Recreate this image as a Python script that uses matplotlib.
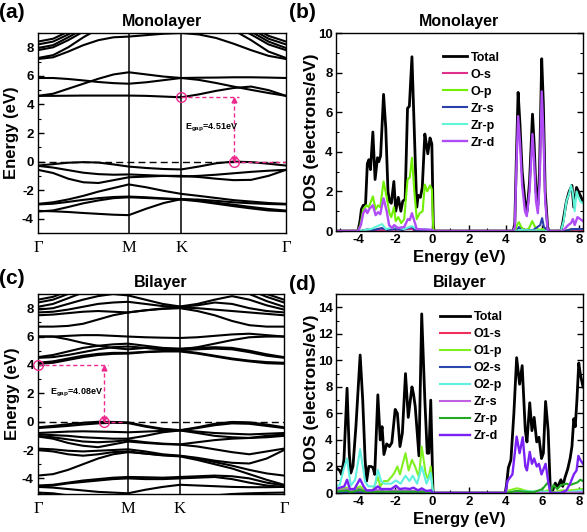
import numpy as np
import matplotlib
matplotlib.use('Agg')
import matplotlib.pyplot as plt
from matplotlib.ticker import MultipleLocator

plt.rcParams['font.family'] = ['Liberation Sans', 'DejaVu Sans']
plt.rcParams['font.weight'] = 'bold'
plt.rcParams['axes.labelweight'] = 'bold'
plt.rcParams['axes.titleweight'] = 'bold'
plt.rcParams['mathtext.fontset'] = 'custom'
plt.rcParams['mathtext.rm'] = 'Liberation Sans:bold'
plt.rcParams['mathtext.default'] = 'rm'
plt.rcParams['axes.linewidth'] = 1.0
plt.rcParams['axes.unicode_minus'] = False

# ---------------- k path ----------------
sym_labels = ['Γ', 'M', 'K', 'Γ']
seg_GM, seg_MK, seg_KG = 1 / np.sqrt(3), 1 / 3, 2 / 3
sym_k = [0, seg_GM, seg_GM + seg_MK, seg_GM + seg_MK + seg_KG]
k_samples = np.concatenate([np.linspace(0, seg_GM, 7),
                            seg_GM + np.linspace(0, seg_MK, 4)[1:],
                            seg_GM + seg_MK + np.linspace(0, seg_KG, 7)[1:]])

# ---------------- monolayer bands (eV at 16 k-samples) ----------------
mono_bands = [
    [-0.28, -0.18, -0.08, -0.04, -0.07, -0.20, -0.35, -0.45, -0.52, -0.55, -0.35, -0.12, 0.00, -0.04, -0.15, -0.28],
    [-0.58, -0.80, -1.20, -1.45, -1.50, -1.30, -1.10, -1.05, -1.00, -1.00, -1.08, -1.20, -1.30, -1.28, -1.00, -0.58],
    [-0.30, -0.42, -0.60, -0.78, -0.88, -0.92, -0.90, -0.95, -1.00, -1.05, -1.00, -0.92, -0.82, -0.72, -0.64, -0.58],
    [-2.96, -2.85, -2.65, -2.40, -2.10, -1.85, -1.60, -1.80, -2.05, -2.26, -2.40, -2.55, -2.70, -2.80, -2.90, -2.96],
    [-3.00, -2.95, -2.82, -2.68, -2.56, -2.48, -2.45, -2.50, -2.58, -2.63, -2.66, -2.75, -2.85, -2.92, -2.97, -3.00],
    [-3.45, -3.48, -3.53, -3.60, -3.66, -3.72, -3.75, -3.30, -2.90, -2.63, -2.72, -2.88, -3.02, -3.18, -3.32, -3.43],
    [-3.50, -3.42, -3.18, -2.92, -2.72, -2.56, -2.50, -2.55, -2.60, -2.66, -2.78, -2.95, -3.12, -3.28, -3.42, -3.48],
    [4.60, 4.60, 4.61, 4.62, 4.62, 4.62, 4.62, 4.60, 4.55, 4.50, 4.70, 4.95, 5.15, 5.25, 5.00, 4.60],
    [4.60, 4.75, 5.10, 5.45, 5.80, 6.10, 6.25, 6.10, 5.95, 5.85, 5.72, 5.50, 5.25, 5.02, 4.80, 4.60],
    [5.85, 5.85, 5.78, 5.68, 5.57, 5.49, 5.45, 5.55, 5.70, 5.85, 5.87, 5.88, 5.90, 5.90, 5.88, 5.85],
    [7.18, 7.30, 7.70, 8.15, 8.50, 8.70, 8.75, 8.85, 8.95, 9.00, 8.90, 8.65, 8.25, 7.80, 7.40, 7.18],
    [7.25, 7.45, 8.00, 8.70, 9.30, 9.80, 10.0, 10.0, 10.0, 10.0, 10.0, 9.80, 9.20, 8.50, 7.70, 7.25],
    [7.80, 8.00, 8.50, 9.10, 9.70, 10.2, 10.5, 10.5, 10.5, 10.5, 10.5, 10.2, 9.50, 8.90, 8.20, 7.80],
    [7.95, 8.15, 8.70, 9.30, 9.90, 10.3, 10.5, 10.5, 10.5, 10.5, 10.5, 10.3, 9.70, 9.10, 8.40, 7.95],
    [8.20, 8.40, 8.90, 9.50, 10.1, 10.5, 10.8, 10.8, 10.8, 10.8, 10.8, 10.5, 9.90, 9.30, 8.60, 8.20],
    [8.40, 8.60, 9.10, 9.70, 10.3, 10.7, 11.0, 11.0, 11.0, 11.0, 11.0, 10.7, 10.1, 9.50, 8.80, 8.40],
]

# ---------------- bilayer bands ----------------
bi_bands = [
    [-0.40, -0.30, -0.18, -0.08, -0.01, -0.02, -0.05, -0.30, -0.50, -0.60, -0.40, -0.15, -0.02, -0.05, -0.20, -0.40],
    [-0.45, -0.38, -0.30, -0.20, -0.12, -0.08, -0.10, -0.35, -0.55, -0.62, -0.45, -0.25, -0.12, -0.15, -0.30, -0.45],
    [-0.80, -0.75, -0.70, -0.68, -0.70, -0.72, -0.75, -0.70, -0.65, -0.60, -0.70, -0.80, -0.85, -0.90, -0.85, -0.80],
    [-0.90, -0.95, -1.00, -1.10, -1.15, -1.20, -1.20, -1.00, -0.75, -0.62, -0.80, -1.00, -1.10, -1.15, -1.00, -0.90],
    [-1.00, -1.10, -1.25, -1.40, -1.45, -1.40, -1.30, -1.45, -1.55, -1.60, -1.45, -1.30, -1.20, -1.15, -1.10, -1.00],
    [-1.05, -1.20, -1.50, -1.70, -1.80, -1.60, -1.40, -1.50, -1.58, -1.62, -1.75, -1.95, -2.15, -2.30, -2.10, -1.90],
    [-1.90, -1.95, -2.05, -2.10, -2.05, -2.00, -1.95, -2.10, -2.30, -2.40, -2.55, -2.75, -2.90, -2.95, -2.60, -2.00],
    [-2.00, -2.10, -2.30, -2.40, -2.30, -2.15, -2.10, -2.25, -2.38, -2.45, -2.70, -3.00, -3.30, -3.70, -4.10, -4.45],
    [-3.80, -3.70, -3.40, -3.00, -2.60, -2.30, -2.15, -2.25, -2.35, -2.42, -2.60, -2.85, -3.10, -3.40, -3.65, -3.80],
    [-4.50, -4.45, -4.30, -4.15, -4.05, -3.95, -3.90, -3.92, -3.95, -3.90, -3.85, -3.80, -3.85, -4.00, -4.30, -4.50],
    [-4.60, -4.50, -4.35, -4.25, -4.15, -4.05, -4.00, -4.05, -4.05, -4.00, -3.95, -3.90, -4.05, -4.30, -4.50, -4.60],
    [-4.60, -4.65, -4.75, -4.85, -4.95, -5.00, -5.05, -4.80, -4.60, -4.45, -4.50, -4.55, -4.60, -4.62, -4.62, -4.60],
    [-5.00, -5.05, -5.20, -5.40, -5.50, -5.40, -5.20, -5.30, -5.40, -5.45, -5.30, -5.20, -5.10, -5.05, -5.02, -5.00],
    [4.08, 4.15, 4.35, 4.55, 4.70, 4.78, 4.80, 4.90, 4.95, 4.95, 4.80, 4.60, 4.40, 4.25, 4.12, 4.08],
    [4.15, 4.25, 4.45, 4.65, 4.78, 4.85, 4.85, 4.92, 4.98, 5.00, 4.85, 4.65, 4.45, 4.30, 4.20, 4.15],
    [4.50, 4.55, 4.70, 4.90, 5.10, 5.25, 5.30, 5.20, 5.10, 5.05, 5.10, 5.15, 5.10, 4.90, 4.65, 4.50],
    [4.55, 4.70, 4.95, 5.20, 5.35, 5.45, 5.50, 5.35, 5.20, 5.15, 5.20, 5.25, 5.20, 5.00, 4.75, 4.55],
    [6.00, 6.00, 5.80, 5.55, 5.35, 5.20, 5.10, 5.20, 5.12, 5.10, 5.25, 5.50, 5.75, 5.95, 6.00, 6.00],
    [6.00, 6.00, 6.05, 6.10, 6.10, 6.05, 6.00, 5.95, 5.92, 5.90, 5.95, 6.05, 6.15, 6.20, 6.10, 6.00],
    [6.70, 6.70, 6.75, 6.90, 7.20, 7.50, 7.70, 7.85, 7.95, 8.00, 7.80, 7.50, 7.10, 6.80, 6.70, 6.70],
    [7.50, 7.55, 7.65, 7.75, 7.80, 7.75, 7.70, 7.85, 7.98, 8.05, 8.00, 7.90, 7.80, 7.70, 7.60, 7.50],
    [7.70, 7.75, 7.90, 8.10, 8.30, 8.40, 8.45, 8.30, 8.15, 8.10, 8.20, 8.40, 8.30, 8.00, 7.80, 7.70],
    [7.90, 8.00, 8.30, 8.60, 8.85, 9.00, 8.90, 8.60, 8.30, 8.12, 8.30, 8.60, 8.85, 8.60, 8.20, 7.90],
    [8.10, 8.30, 8.70, 9.10, 9.40, 9.40, 9.40, 9.30, 9.20, 9.10, 9.20, 9.30, 9.30, 9.00, 8.50, 8.10],
    [8.40, 8.60, 9.00, 9.40, 9.80, 10.0, 10.0, 10.0, 10.0, 10.0, 10.0, 10.0, 9.70, 9.30, 8.80, 8.40],
    [8.60, 8.80, 9.20, 9.60, 10.0, 10.2, 10.2, 10.2, 10.2, 10.2, 10.2, 10.2, 9.90, 9.50, 9.00, 8.60],
]

# ---------------- monolayer DOS (energy eV, states/eV) ----------------
mono_total = [(-5.2, 0), (-4.0, 0), (-3.9, 0.5), (-3.82, 1.1), (-3.72, 1.3), (-3.6, 1.3), (-3.5, 3.4), (-3.42, 3.6),
              (-3.33, 3.1), (-3.2, 5.0), (-3.08, 2.6), (-2.95, 3.7), (-2.88, 3.5), (-2.78, 3.8), (-2.62, 6.9),
              (-2.5, 5.2), (-2.38, 2.0), (-2.3, 1.5), (-2.2, 1.4), (-2.06, 2.5), (-1.96, 1.0), (-1.82, 1.7),
              (-1.68, 1.0), (-1.58, 1.5), (-1.45, 1.6), (-1.32, 6.2), (-1.22, 6.3), (-1.08, 8.8), (-0.95, 5.0),
              (-0.82, 1.2), (-0.74, 1.8), (-0.62, 1.7), (-0.52, 2.2), (-0.38, 4.9), (-0.3, 4.4), (-0.22, 3.9),
              (-0.1, 4.7), (0.0, 4.4), (0.08, 0.3), (0.12, 0), (4.42, 0), (4.5, 0.4), (4.58, 3.5), (4.68, 7.0),
              (4.78, 5.4), (4.9, 3.0), (5.05, 1.5), (5.17, 1.0), (5.3, 2.5), (5.46, 5.9), (5.55, 4.4), (5.65, 2.0),
              (5.75, 1.3), (5.84, 3.0), (5.96, 8.7), (6.05, 6.4), (6.15, 2.0), (6.28, 0.2), (6.35, 0), (7.0, 0),
              (7.1, 0.4), (7.3, 1.5), (7.45, 2.0), (7.6, 2.3), (7.7, 1.2), (7.85, 2.2), (7.95, 2.0), (8.05, 1.8),
              (8.2, 1.5)]
mono_Os = [(-5.2, 0), (-3.9, 0), (-3.4, 0.03), (-2.7, 0.05), (-1.1, 0.1), (-0.8, 0.02), (0.1, 0), (8.2, 0)]
mono_Op = [(-5.2, 0), (-4.0, 0), (-3.88, 0.3), (-3.72, 1.1), (-3.55, 1.3), (-3.42, 1.2), (-3.2, 1.75), (-3.05, 1.1),
           (-2.92, 1.3), (-2.8, 1.2), (-2.62, 2.5), (-2.45, 1.7), (-2.3, 0.9), (-2.2, 0.7), (-2.06, 1.2),
           (-1.96, 0.5), (-1.82, 0.7), (-1.66, 0.4), (-1.5, 0.6), (-1.32, 2.6), (-1.2, 2.7), (-1.08, 3.7),
           (-0.95, 2.0), (-0.82, 0.6), (-0.66, 0.9), (-0.5, 1.0), (-0.38, 2.35), (-0.25, 2.0), (-0.1, 2.3),
           (0.0, 2.1), (0.08, 0.1), (0.12, 0), (4.5, 0), (4.62, 0.3), (4.72, 0.45), (4.85, 0.2), (5.0, 0.05),
           (5.25, 0.1), (5.45, 0.5), (5.6, 0.2), (5.8, 0.05), (6.0, 0.1), (6.3, 0), (7.2, 0), (7.6, 0.1), (8.2, 0.1)]
mono_Zrs = [(-5.2, 0), (-3.9, 0), (-3.5, 0.08), (-3.2, 0.05), (-2.7, 0.15), (-2.4, 0.05), (-2.0, 0.1), (-1.6, 0.05),
            (-1.1, 0.2), (-0.9, 0.05), (0.1, 0), (4.6, 0), (4.72, 0.2), (4.85, 0.05), (5.5, 0.05), (5.88, 0.3),
            (5.98, 0.65), (6.08, 0.2), (6.3, 0), (7.2, 0), (7.6, 0.1), (8.2, 0.1)]
mono_Zrp = [(-5.2, 0), (-3.9, 0), (-3.6, 0.05), (-3.3, 0.1), (-2.7, 0.35), (-2.5, 0.1), (-2.0, 0.2), (-1.5, 0.1),
            (-1.1, 0.25), (-0.8, 0.1), (-0.3, 0.1), (0.1, 0), (4.6, 0), (4.75, 0.05), (6.3, 0), (7.0, 0),
            (7.15, 0.5), (7.3, 1.5), (7.45, 1.9), (7.55, 2.3), (7.65, 1.9), (7.75, 1.0), (7.85, 2.0), (7.95, 1.7),
            (8.05, 1.5), (8.2, 1.4)]
mono_Zrd = [(-5.2, 0), (-4.0, 0), (-3.85, 0.3), (-3.72, 0.9), (-3.6, 1.1), (-3.5, 0.9), (-3.4, 1.1), (-3.2, 1.3),
            (-3.05, 0.8), (-2.92, 0.95), (-2.8, 0.85), (-2.62, 1.65), (-2.45, 1.0), (-2.32, 0.3), (-2.15, 0.15),
            (-2.05, 0.3), (-1.85, 0.15), (-1.5, 0.2), (-1.3, 0.6), (-1.2, 0.55), (-1.08, 0.9), (-0.95, 0.5),
            (-0.82, 0.1), (-0.5, 0.08), (0.0, 0.06), (0.1, 0), (4.42, 0), (4.5, 0.2), (4.58, 3.0), (4.68, 5.8),
            (4.78, 4.5), (4.9, 2.3), (5.05, 1.0), (5.15, 0.75), (5.3, 2.0), (5.46, 4.9), (5.55, 3.5), (5.65, 1.5),
            (5.75, 0.9), (5.85, 2.5), (5.96, 7.05), (6.05, 5.0), (6.15, 1.5), (6.28, 0.1), (6.35, 0), (7.1, 0),
            (7.4, 0.3), (7.55, 0.4), (7.65, 0.6), (7.75, 0.3), (7.9, 0.7), (8.05, 0.6), (8.2, 0.5)]

# ---------------- bilayer DOS ----------------
bi_total = [(-5.2, 1.9), (-5.0, 1.7), (-4.9, 1.4), (-4.77, 2.5), (-4.6, 7.9), (-4.48, 3.0), (-4.4, 1.5), (-4.28, 2.0),
            (-4.12, 5.0), (-3.89, 10.4), (-3.75, 7.0), (-3.62, 2.5), (-3.54, 0.9), (-3.42, 2.0), (-3.3, 2.0),
            (-3.19, 1.9), (-3.1, 1.4), (-2.93, 7.4), (-2.8, 4.0), (-2.7, 5.0), (-2.6, 2.9), (-2.45, 3.7),
            (-2.3, 3.5), (-2.17, 3.8), (-1.99, 6.3), (-1.87, 6.0), (-1.73, 3.5), (-1.6, 4.5), (-1.43, 9.0),
            (-1.28, 5.7), (-1.08, 8.0), (-1.0, 7.5), (-0.9, 6.5), (-0.7, 2.8), (-0.55, 13.5), (-0.38, 7.0),
            (-0.25, 3.0), (-0.16, 3.0), (-0.06, 7.0), (0.06, 0.2), (0.1, 0), (3.98, 0), (4.05, 0.6), (4.15, 1.9),
            (4.29, 2.5), (4.45, 6.0), (4.6, 10.2), (4.76, 8.2), (4.9, 9.6), (5.07, 4.7), (5.16, 3.85), (5.31, 6.8),
            (5.43, 4.7), (5.55, 5.7), (5.69, 3.85), (5.81, 4.2), (5.95, 2.6), (6.05, 3.0), (6.17, 6.9),
            (6.31, 4.7), (6.43, 0.1), (6.53, 0), (6.6, 0.4), (6.7, 0.75), (6.8, 0.4), (6.87, 0.6), (7.0, 1.0),
            (7.1, 0.5), (7.23, 1.2), (7.37, 1.8), (7.5, 2.6), (7.6, 3.5), (7.7, 5.6), (7.78, 5.0), (7.87, 7.0),
            (7.97, 9.8), (8.05, 9.0), (8.2, 8.0)]
bi_O1s = [(-5.2, 0.05), (-4.6, 0.05), (-3.9, 0.05), (0.05, 0), (8.2, 0)]
bi_O1p = [(-5.2, 0.2), (-4.6, 0.4), (-4.4, 0.15), (-3.89, 0.5), (-3.6, 0.15), (-3.2, 0.2), (-2.93, 1.2), (-2.8, 0.5),
          (-2.6, 0.9), (-2.4, 0.9), (-2.2, 1.2), (-2.04, 1.5), (-1.87, 2.0), (-1.73, 1.4), (-1.43, 3.0),
          (-1.26, 1.7), (-1.08, 2.5), (-0.91, 2.0), (-0.7, 1.2), (-0.55, 3.5), (-0.34, 1.5), (-0.2, 1.0),
          (-0.06, 2.0), (0.06, 0), (4.0, 0), (4.2, 0.2), (4.6, 0.35), (4.8, 0.3), (5.0, 0.2), (5.4, 0.1),
          (6.0, 0.1), (6.3, 0.2), (6.45, 0), (7.0, 0.2), (7.5, 0.2), (8.2, 0.3)]
bi_O2s = [(-5.2, 0.05), (-4.6, 0.08), (-3.9, 0.05), (0.05, 0), (8.2, 0)]
bi_O2p = [(-5.2, 0.5), (-5.0, 0.6), (-4.77, 1.85), (-4.6, 2.6), (-4.4, 0.55), (-4.16, 1.0), (-3.89, 3.3), (-3.62, 0.85),
          (-3.45, 0.5), (-3.1, 0.5), (-2.93, 1.75), (-2.75, 0.9), (-2.58, 0.7), (-2.2, 0.7), (-1.95, 0.95),
          (-1.7, 0.7), (-1.43, 1.3), (-1.22, 0.9), (-1.04, 1.3), (-0.8, 0.7), (-0.55, 2.0), (-0.29, 0.7),
          (-0.06, 1.5), (0.06, 0), (4.0, 0), (4.3, 0.05), (4.6, 0.15), (6.2, 0.1), (6.45, 0), (7.2, 0.05),
          (7.6, 0.1), (8.2, 0.2)]
bi_Zrs = [(-5.2, 0.1), (-4.6, 0.3), (-4.4, 0.1), (-3.9, 0.3), (-3.6, 0.1), (-2.9, 0.25), (-2.5, 0.1), (-2.0, 0.2),
          (-1.4, 0.15), (-0.55, 0.15), (0.05, 0), (4.0, 0), (4.6, 0.1), (5.0, 0.05), (6.4, 0), (8.2, 0.05)]
bi_Zrp = [(-5.2, 0.1), (-4.6, 0.2), (-4.4, 0.05), (-3.9, 0.25), (-3.5, 0.05), (-2.9, 0.1), (-1.4, 0.1), (-0.5, 0.1),
          (0.05, 0), (4.0, 0), (4.6, 0.15), (5.5, 0.05), (6.0, 0.3), (6.3, 0.8), (6.45, 0.1), (6.6, 0.6),
          (6.8, 0.3), (7.0, 0.6), (7.3, 0.7), (7.5, 0.6), (7.7, 0.7), (7.9, 0.8), (8.05, 1.0), (8.2, 0.9)]
bi_Zrd = [(-5.2, 0.3), (-4.75, 0.5), (-4.6, 1.0), (-4.45, 0.3), (-4.2, 0.3), (-3.9, 1.05), (-3.7, 0.5), (-3.55, 0.2),
          (-3.2, 0.2), (-2.93, 0.5), (-2.75, 0.3), (-2.5, 0.3), (-2.2, 0.3), (-1.95, 0.55), (-1.75, 0.3),
          (-1.45, 0.35), (-1.2, 0.3), (-1.0, 0.4), (-0.75, 0.2), (-0.55, 0.35), (-0.3, 0.15), (-0.06, 0.2),
          (0.06, 0), (4.0, 0), (4.1, 0.9), (4.37, 1.4), (4.6, 4.25), (4.76, 3.0), (4.93, 4.2), (5.07, 2.0),
          (5.16, 1.7), (5.31, 3.1), (5.43, 2.2), (5.55, 2.6), (5.69, 2.0), (5.81, 2.2), (5.95, 1.4), (6.17, 2.2),
          (6.31, 0.9), (6.43, 0), (7.0, 0), (7.3, 0.2), (7.5, 0.7), (7.7, 1.4), (7.85, 1.7), (7.95, 2.8),
          (8.05, 2.5), (8.2, 2.2)]

mono_gap = dict(k_c=sym_k[2], e_c=4.50, k_v=sym_k[2] + 0.505 * seg_KG, e_v=0.0, label='4.51eV')
bi_gap = dict(k_c=0.0, e_c=4.00, k_v=0.73 * seg_GM, e_v=0.0, label='4.08eV')

PINK = '#EE2A8E'

W, H = 587, 532
fig = plt.figure(figsize=(W / 100, H / 100), dpi=100)


def axpx(l, t, r, b):
    return fig.add_axes([l / W, 1 - b / H, (r - l) / W, (b - t) / H])


ax_a = axpx(38, 33, 286, 233)
ax_b = axpx(336, 33, 583, 231)
ax_c = axpx(38, 294, 284, 494)
ax_d = axpx(336, 294, 583, 493)


def draw_bands(ax, bands, ylim, title):
    for b in bands:
        ax.plot(k_samples, b, color='black', lw=1.5, solid_joinstyle='round')
    for kx in sym_k[1:-1]:
        ax.axvline(kx, color='black', lw=1.1)
    ax.axhline(0, color='black', lw=1.0, ls=(0, (5, 3)))
    ax.set_xlim(0, sym_k[-1])
    ax.set_ylim(*ylim)
    ax.set_xticks(sym_k)
    ax.set_xticklabels(sym_labels, fontfamily=['Liberation Serif', 'DejaVu Serif'],
                       fontweight='normal', fontsize=12)
    ax.tick_params(axis='x', length=0, pad=5)
    ax.yaxis.set_major_locator(MultipleLocator(2))
    ax.yaxis.set_minor_locator(MultipleLocator(1))
    ax.tick_params(axis='y', which='major', direction='in', length=4, width=1, labelsize=9.5, pad=3)
    ax.tick_params(axis='y', which='minor', direction='in', length=2, width=0.8)
    ax.set_ylabel('Energy (eV)', fontsize=12)
    ax.yaxis.set_label_coords(-0.075, 0.5)
    ax.set_title(title, fontsize=11.5, pad=5)


def draw_gap(ax, g, text_k, text_e, hv_end):
    ax.plot([g['k_c'], g['k_v'] + 0.03], [g['e_c'], g['e_c']], color=PINK, lw=1.0, ls=(0, (3, 2)))
    ax.plot([g['k_v'], hv_end], [g['e_v'], g['e_v']], color=PINK, lw=1.0, ls=(0, (3, 2)))
    ax.plot([g['k_v'], g['k_v']], [g['e_c'] - 0.1, g['e_v'] + 0.1], color=PINK, lw=1.0, ls=(0, (3, 2)))
    ax.plot([g['k_v']], [g['e_c'] - 0.2], marker='^', color=PINK, ms=3.5)
    ax.plot([g['k_v']], [g['e_v'] + 0.2], marker='v', color=PINK, ms=3.5)
    ax.plot([g['k_c'], g['k_v']], [g['e_c'], g['e_v']], ls='none', marker='o', mfc='none',
            mec=PINK, ms=7, mew=1.0, clip_on=False, zorder=5)
    ax.text(text_k, text_e, r'E$_{gap}$=' + g['label'], fontsize=6.5, ha='left', va='center')


draw_bands(ax_a, mono_bands, (-5, 9), 'Monolayer')
draw_gap(ax_a, mono_gap, 0.935, 2.33, sym_k[-1])
draw_bands(ax_c, bi_bands, (-5.1, 9), 'Bilayer')
draw_gap(ax_c, bi_gap, 0.077, 2.0, 0.55)


def draw_dos(ax, series, ymax, title, leg_anchor, handlelength):
    for name, pts, color, lw in series:
        arr = np.array(pts)
        ax.plot(arr[:, 0], arr[:, 1], color=color, lw=lw, label=name)
    ax.set_xlim(-5.2, 8.2)
    ax.set_ylim(0, ymax)
    ax.xaxis.set_minor_locator(MultipleLocator(1))
    ax.yaxis.set_major_locator(MultipleLocator(2))
    ax.yaxis.set_minor_locator(MultipleLocator(1))
    ax.set_xticks(np.arange(-4, 9, 2))
    ax.tick_params(which='major', direction='in', length=4, width=1, labelsize=9.5, pad=2.5,
                   right=True, top=False)
    ax.tick_params(which='minor', direction='in', length=2, width=0.8, right=True)
    ax.set_xlabel('Energy (eV)', fontsize=12)
    ax.xaxis.set_label_coords(0.5, -0.095)
    ax.set_ylabel('DOS (electrons/eV)', fontsize=12.5)
    ax.yaxis.set_label_coords(-0.068, 0.5)
    ax.set_title(title, fontsize=11.5, pad=5)
    ax.legend(loc='upper left', bbox_to_anchor=leg_anchor, frameon=False, fontsize=9,
              handlelength=handlelength, handletextpad=0.3, labelspacing=0.4,
              borderpad=0, borderaxespad=0)


mono_series = [('Total', mono_total, 'black', 2.0),
               ('O-s', mono_Os, '#E0308C', 1.5),
               ('O-p', mono_Op, '#70F000', 1.5),
               ('Zr-s', mono_Zrs, '#2B3FA8', 1.5),
               ('Zr-p', mono_Zrp, '#5FF5D8', 1.5),
               ('Zr-d', mono_Zrd, '#B04CF5', 1.7)]
bi_series = [('Total', bi_total, 'black', 2.0),
             ('O1-s', bi_O1s, '#F0305A', 1.5),
             ('O1-p', bi_O1p, '#80F020', 1.5),
             ('O2-s', bi_O2s, '#2A48B0', 1.5),
             ('O2-p', bi_O2p, '#60F0E0', 1.5),
             ('Zr-s', bi_Zrs, '#C060E0', 1.5),
             ('Zr-p', bi_Zrp, '#22AA22', 1.5),
             ('Zr-d', bi_Zrd, '#7A22F5', 1.7)]

draw_dos(ax_b, mono_series, 10, 'Monolayer', (0.435, 0.905), 1.9)
draw_dos(ax_d, bi_series, 15, 'Bilayer', (0.42, 0.915), 2.4)

for lab, x, y in [('(a)', 12, 13), ('(b)', 302, 13), ('(c)', 12, 279), ('(d)', 302, 284)]:
    fig.text(x / W, 1 - y / H, lab, fontsize=15, ha='center', va='center', fontweight='bold')

fig.savefig('out.png', dpi=100)
